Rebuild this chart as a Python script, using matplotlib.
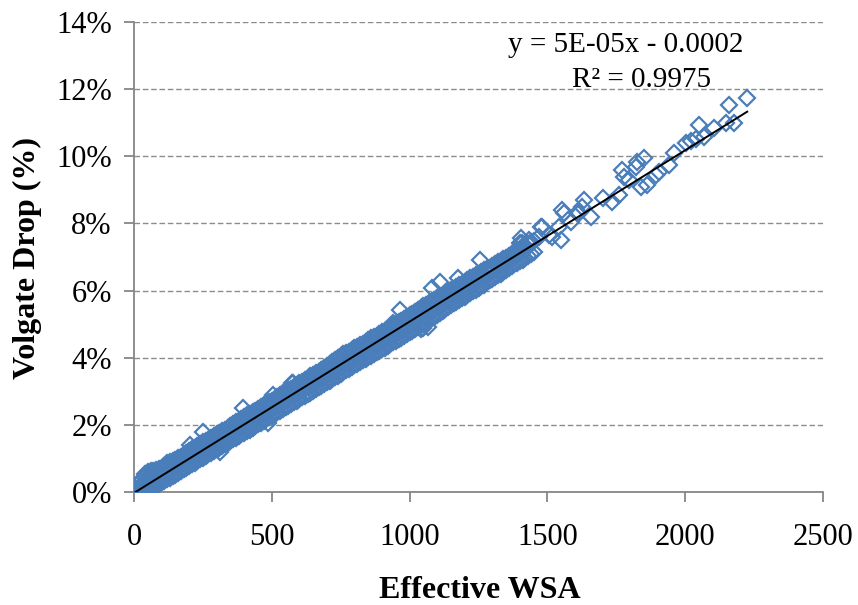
import numpy as np
import matplotlib
matplotlib.use("Agg")
import matplotlib.pyplot as plt
from matplotlib.ticker import PercentFormatter, MultipleLocator

plt.rcParams['font.family'] = ['Liberation Serif', 'DejaVu Serif']

# effective WSA vs voltage drop (%)
wsa = [
    2, 5, 8, 10, 12, 15, 18, 20, 22, 25, 28, 30, 33, 35, 38, 40, 42, 45, 48, 50,
    52, 55, 58, 60, 62, 65, 68, 70, 72, 75, 78, 80, 84, 88, 90, 95, 100, 105, 110, 110,
    115, 120, 125, 130, 135, 140, 145, 150, 150, 155, 160, 165, 170, 175, 180, 185, 190, 195, 200, 200,
    203, 205, 210, 215, 220, 225, 230, 235, 240, 245, 250, 250, 255, 260, 265, 270, 275, 280, 285, 290,
    295, 300, 305, 310, 311, 315, 320, 325, 330, 335, 340, 345, 350, 355, 360, 365, 370, 375, 380, 385,
    390, 395, 400, 405, 410, 415, 420, 425, 430, 435, 440, 445, 450, 455, 460, 465, 470, 475, 480, 485,
    486, 490, 495, 500, 504, 505, 510, 515, 520, 525, 530, 535, 540, 545, 550, 555, 560, 565, 570, 572,
    575, 576, 580, 585, 590, 595, 600, 610, 615, 620, 625, 630, 635, 640, 645, 650, 655, 660, 665, 670,
    675, 680, 685, 690, 695, 700, 705, 710, 715, 720, 725, 730, 735, 740, 745, 750, 755, 760, 765, 770,
    775, 780, 785, 790, 795, 800, 805, 810, 815, 820, 825, 830, 835, 840, 845, 850, 855, 860, 865, 870,
    875, 880, 885, 890, 895, 900, 905, 910, 915, 920, 925, 930, 935, 938, 940, 945, 950, 955, 960, 964,
    965, 970, 975, 980, 985, 990, 995, 1000, 1005, 1010, 1015, 1020, 1025, 1030, 1035, 1040, 1043, 1047, 1050, 1055,
    1060, 1065, 1070, 1075, 1080, 1083, 1085, 1090, 1095, 1100, 1105, 1109, 1110, 1115, 1120, 1125, 1130, 1135, 1140, 1145,
    1150, 1155, 1160, 1165, 1170, 1174, 1175, 1180, 1185, 1190, 1195, 1200, 1210, 1215, 1220, 1230, 1240, 1250, 1254, 1260,
    1265, 1270, 1280, 1290, 1300, 1310, 1320, 1330, 1330, 1340, 1350, 1360, 1370, 1380, 1390, 1399, 1406, 1409, 1420, 1435,
    1471, 1478, 1482, 1507, 1518, 1543, 1551, 1554, 1562, 1587, 1609, 1616, 1627, 1634, 1659, 1700, 1736, 1761, 1772, 1779,
    1797, 1822, 1826, 1840, 1851, 1862, 1895, 1906, 1942, 1960, 2004, 2020, 2040, 2051, 2069, 2105, 2148, 2159, 2178, 2225,
]
drop = [
    0.02, 0.03, 0.06, 0.02, 0.10, 0.05, 0.14, 0.08, 0.15, 0.10, 0.20, 0.12, 0.22, 0.14, 0.25, 0.16, 0.30, 0.20, 0.35, 0.18,
    0.42, 0.25, 0.48, 0.22, 0.50, 0.28, 0.55, 0.30, 0.58, 0.33, 0.40, 0.52, 0.36, 0.60, 0.40, 0.50, 0.45, 0.62, 0.50, 0.38,
    0.58, 0.55, 0.75, 0.60, 0.80, 0.65, 0.85, 0.70, 0.55, 0.80, 0.75, 0.90, 0.82, 0.95, 0.85, 1.00, 0.90, 1.05, 0.98, 0.82,
    1.40, 1.10, 0.95, 1.15, 1.05, 1.20, 1.08, 1.25, 1.12, 1.30, 1.20, 1.79, 1.38, 1.22, 1.35, 1.28, 1.45, 1.32, 1.50, 1.40,
    1.42, 1.55, 1.45, 1.62, 1.19, 1.50, 1.65, 1.55, 1.70, 1.60, 1.75, 1.65, 1.80, 1.70, 1.85, 1.75, 1.92, 1.80, 1.98, 1.85,
    2.00, 2.50, 2.05, 1.95, 2.15, 2.00, 2.20, 2.08, 2.25, 2.12, 2.30, 2.18, 2.35, 2.22, 2.40, 2.28, 2.45, 2.35, 2.48, 2.40,
    2.05, 2.55, 2.42, 2.60, 2.89, 2.50, 2.65, 2.55, 2.70, 2.60, 2.75, 2.65, 2.80, 2.70, 2.85, 2.75, 2.90, 2.80, 2.95, 3.24,
    2.85, 3.24, 3.00, 2.90, 3.05, 2.95, 3.10, 3.15, 3.05, 3.20, 3.10, 3.25, 3.15, 3.30, 3.20, 3.35, 3.25, 3.40, 3.30, 3.45,
    3.35, 3.48, 3.40, 3.55, 3.45, 3.60, 3.50, 3.65, 3.55, 3.70, 3.58, 3.75, 3.62, 3.80, 3.68, 3.85, 3.72, 3.90, 3.80, 3.95,
    3.85, 4.00, 3.88, 4.05, 3.92, 4.12, 4.00, 4.15, 4.05, 4.20, 4.10, 4.25, 4.12, 4.30, 4.18, 4.35, 4.22, 4.40, 4.28, 4.45,
    4.32, 4.50, 4.38, 4.55, 4.42, 4.60, 4.48, 4.65, 4.52, 4.70, 4.58, 4.75, 4.62, 5.03, 4.80, 4.68, 4.85, 4.72, 4.90, 5.42,
    4.78, 4.95, 4.82, 5.00, 4.88, 5.05, 4.92, 5.10, 4.98, 5.18, 5.05, 5.22, 5.10, 5.28, 5.15, 5.32, 4.85, 4.88, 5.38, 5.25,
    5.42, 4.91, 5.48, 5.35, 5.52, 6.07, 5.42, 5.58, 5.48, 5.62, 5.52, 6.25, 5.68, 5.58, 5.72, 5.62, 5.78, 5.68, 5.82, 5.72,
    5.88, 5.78, 5.92, 5.82, 5.98, 6.37, 5.88, 6.02, 5.92, 6.08, 5.98, 6.12, 6.15, 6.05, 6.22, 6.25, 6.32, 6.35, 6.90, 6.42,
    6.30, 6.45, 6.52, 6.55, 6.62, 6.65, 6.72, 6.75, 6.60, 6.82, 6.85, 6.92, 6.95, 7.02, 7.05, 7.41, 7.56, 7.41, 7.20, 7.50,
    7.59, 7.89, 7.89, 7.65, 7.59, 7.89, 7.50, 8.39, 8.30, 8.04, 8.30, 8.30, 8.48, 8.69, 8.18, 8.75, 8.63, 8.84, 9.58, 9.38,
    9.29, 9.67, 9.82, 9.08, 9.94, 9.14, 9.43, 9.52, 9.73, 10.10, 10.40, 10.45, 10.50, 10.92, 10.57, 10.83, 10.98, 11.52, 10.98, 11.73,
]

# points along the upper and lower edge of the dense band (0..1450)
band_wsa = [
    0, 10, 20, 30, 40, 50, 60, 70, 80, 90, 100, 110, 120, 130, 140, 150, 160, 170, 180, 190,
    200, 210, 220, 230, 240, 250, 260, 270, 280, 290, 300, 310, 320, 330, 340, 350, 360, 370, 380, 390,
    400, 410, 420, 430, 440, 450, 460, 470, 480, 490, 500, 510, 520, 530, 540, 550, 560, 570, 580, 590,
    600, 610, 620, 630, 640, 650, 660, 670, 680, 690, 700, 710, 720, 730, 740, 750, 760, 770, 780, 790,
    800, 810, 820, 830, 840, 850, 860, 870, 880, 890, 900, 910, 920, 930, 940, 950, 960, 970, 980, 990,
    1000, 1010, 1020, 1030, 1040, 1050, 1060, 1070, 1080, 1090, 1100, 1110, 1120, 1130, 1140, 1150, 1160, 1170, 1180, 1190,
    1200, 1210, 1220, 1230, 1240, 1250, 1260, 1270, 1280, 1290, 1300, 1310, 1320, 1330, 1340, 1350, 1360, 1370, 1380, 1390,
    1400, 1410, 1420, 1430, 1440, 1450,
]
band_hi = [
    0.10, 0.20, 0.30, 0.40, 0.55, 0.60, 0.62, 0.62, 0.64, 0.68, 0.72, 0.78, 0.85, 0.90, 0.93, 0.96, 1.00, 1.05, 1.10, 1.15,
    1.22, 1.28, 1.32, 1.36, 1.42, 1.48, 1.52, 1.56, 1.60, 1.66, 1.72, 1.76, 1.82, 1.86, 1.92, 1.96, 2.02, 2.08, 2.12, 2.18,
    2.22, 2.28, 2.32, 2.38, 2.42, 2.48, 2.52, 2.58, 2.62, 2.68, 2.72, 2.78, 2.84, 2.88, 2.94, 2.98, 3.04, 3.08, 3.14, 3.18,
    3.24, 3.28, 3.34, 3.38, 3.44, 3.48, 3.54, 3.58, 3.64, 3.68, 3.74, 3.80, 3.86, 3.92, 3.98, 4.04, 4.10, 4.14, 4.18, 4.22,
    4.28, 4.32, 4.38, 4.42, 4.48, 4.52, 4.58, 4.62, 4.66, 4.70, 4.76, 4.80, 4.86, 4.90, 4.96, 5.00, 5.06, 5.10, 5.16, 5.20,
    5.26, 5.30, 5.36, 5.42, 5.48, 5.54, 5.58, 5.64, 5.68, 5.72, 5.78, 5.82, 5.88, 5.92, 5.96, 6.02, 6.06, 6.12, 6.16, 6.20,
    6.26, 6.30, 6.36, 6.40, 6.46, 6.50, 6.56, 6.60, 6.64, 6.68, 6.74, 6.78, 6.84, 6.88, 6.94, 6.98, 7.04, 7.08, 7.14, 7.18,
    7.24, 7.28, 7.34, 7.38, 7.44, 7.48,
]
band_lo = [
    0.00, 0.00, 0.00, 0.02, 0.05, 0.08, 0.12, 0.15, 0.20, 0.25, 0.30, 0.34, 0.38, 0.42, 0.47, 0.52, 0.58, 0.62, 0.68, 0.72,
    0.78, 0.82, 0.86, 0.92, 0.97, 1.02, 1.06, 1.12, 1.17, 1.22, 1.27, 1.32, 1.37, 1.42, 1.47, 1.52, 1.57, 1.62, 1.66, 1.72,
    1.77, 1.82, 1.86, 1.92, 1.97, 2.02, 2.06, 2.12, 2.16, 2.22, 2.27, 2.32, 2.37, 2.42, 2.47, 2.52, 2.57, 2.62, 2.67, 2.72,
    2.76, 2.82, 2.86, 2.92, 2.96, 3.02, 3.06, 3.12, 3.16, 3.22, 3.27, 3.32, 3.36, 3.42, 3.46, 3.52, 3.56, 3.62, 3.66, 3.72,
    3.77, 3.82, 3.86, 3.92, 3.96, 4.02, 4.06, 4.10, 4.16, 4.20, 4.26, 4.30, 4.36, 4.40, 4.46, 4.50, 4.56, 4.60, 4.66, 4.70,
    4.76, 4.80, 4.86, 4.90, 4.96, 5.00, 5.06, 5.12, 5.18, 5.22, 5.28, 5.34, 5.38, 5.44, 5.50, 5.56, 5.62, 5.66, 5.72, 5.78,
    5.82, 5.88, 5.92, 5.98, 6.02, 6.08, 6.14, 6.18, 6.24, 6.30, 6.34, 6.40, 6.46, 6.50, 6.56, 6.62, 6.66, 6.72, 6.78, 6.82,
    6.88, 6.92, 6.98, 7.04, 7.08, 7.14,
]

x = np.array(wsa + band_wsa + band_wsa, dtype=float)
y = np.array(drop + band_hi + band_lo) / 100.0

fig = plt.figure(figsize=(8.58, 6.05), dpi=100)
ax = fig.add_axes([0.1562, 0.1868, 0.8030, 0.7769])

ax.plot(x, y, linestyle='none', marker='D', markersize=8.5,
        markerfacecolor='none', markeredgecolor='#4a7ebb', markeredgewidth=1.6, zorder=3)

# linear trendline
k, b = np.polyfit(x, y, 1)
xs = np.array([0, x.max()])
ax.plot(xs, k * xs + b, color='black', linewidth=1.4, zorder=4)

ax.set_xlim(0, 2500)
ax.set_ylim(0, 0.14)
ax.xaxis.set_major_locator(MultipleLocator(500))
ax.yaxis.set_major_locator(MultipleLocator(0.02))
ax.yaxis.set_major_formatter(PercentFormatter(xmax=1.0, decimals=0))

ax.yaxis.grid(True, linestyle=(0, (4, 2)), color='#8c8c8c', linewidth=1.0)
ax.set_axisbelow(True)
for s in ['top', 'right']:
    ax.spines[s].set_visible(False)
for s in ['left', 'bottom']:
    ax.spines[s].set_color('#868686')
    ax.spines[s].set_linewidth(1.3)

ax.tick_params(axis='both', direction='out', length=7, width=1.3, color='#868686',
               labelsize=22, labelcolor='black')
ax.tick_params(axis='y', pad=9)
ax.tick_params(axis='x', pad=15)

ax.set_xlabel('Effective WSA', fontsize=23, fontweight='bold', va='center')
ax.xaxis.set_label_coords(0.502, -0.209)
ax.set_ylabel('Volgate Drop (%)', fontsize=23, fontweight='bold', va='center')
ax.yaxis.set_label_coords(-0.154, 0.498)

ax.text(1785, 0.1331, 'y = 5E-05x - 0.0002', fontsize=21, ha='center', va='center')
ax.text(1840, 0.1227, 'R² = 0.9975', fontsize=21, ha='center', va='center')

fig.savefig('out.png', dpi=100)
